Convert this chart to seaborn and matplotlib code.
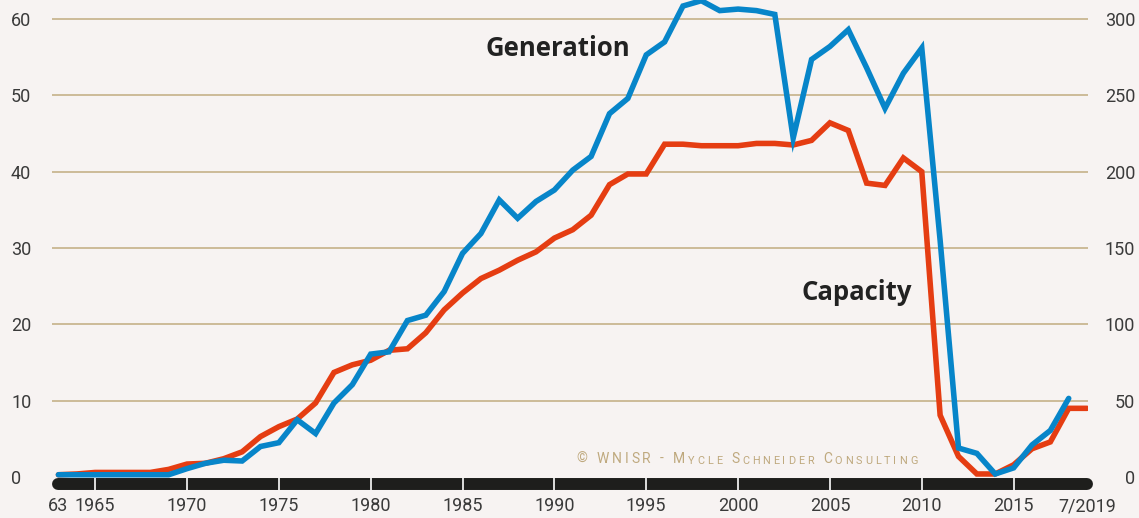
import matplotlib
matplotlib.use("Agg")
import matplotlib.pyplot as plt
import seaborn as sns
import pandas as pd

# Japan nuclear fleet: capacity (GW, left axis) and generation (TWh, right axis)
years = list(range(1963, 2020))
capacity_gw = [0.3, 0.4, 0.6, 0.6, 0.6, 0.6, 1.0, 1.7, 1.8, 2.4,
               3.3, 5.3, 6.6, 7.6, 9.7, 13.7, 14.7, 15.3, 16.6, 16.8,
               18.9, 21.9, 24.1, 26.0, 27.1, 28.4, 29.5, 31.3, 32.4, 34.3,
               38.3, 39.7, 39.7, 43.6, 43.6, 43.4, 43.4, 43.4, 43.7, 43.7,
               43.5, 44.1, 46.4, 45.4, 38.5, 38.2, 41.8, 40.0, 8.1, 2.7,
               0.4, 0.4, 1.6, 3.7, 4.6, 9.0, 9.0]
gen_years = list(range(1963, 2019))
generation_twh = [1.5, 1.5, 1.5, 1.5, 1.5, 1.5, 1.5, 5.5, 9.0, 11.0,
                  10.5, 20.0, 22.5, 37.5, 28.5, 48.5, 60.5, 80.5, 82.0, 102.5,
                  106.0, 121.5, 146.5, 159.5, 181.5, 169.5, 180.5, 188.0, 201.0, 210.0,
                  238.0, 248.0, 276.5, 285.0, 308.5, 312.0, 305.5, 306.5, 305.5, 303.0,
                  222.0, 273.5, 282.0, 293.0, 268.0, 241.5, 264.5, 281.0, 155.0, 19.0,
                  15.5, 2.0, 6.0, 21.0, 30.5, 51.5]

tick_years = [1965, 1970, 1975, 1980, 1985, 1990, 1995, 2000, 2005, 2010, 2015]
end_years = [1963, 2019]
end_labels = ["63", "7/2019"]
left_ticks = [0, 10, 20, 30, 40, 50, 60]
right_ticks = [0, 50, 100, 150, 200, 250, 300]

BG = "#f7f3f2"
RED = "#e53d12"
BLUE = "#0785c9"
GRID = "#c9b791"
TXT = "#3a3a3a"
GOLD = "#bfa97e"

sns.set_style("white", {"axes.facecolor": BG, "figure.facecolor": BG})
plt.rcParams["font.family"] = ["Roboto", "DejaVu Sans"]

fig = plt.figure(figsize=(11.39, 5.18), dpi=100)
ax = fig.add_axes([52 / 1139, 1 - 491 / 518, (1088 - 52) / 1139, 491 / 518])
ax2 = ax.twinx()

cap = pd.DataFrame({"year": years, "gw": capacity_gw})
gen = pd.DataFrame({"year": gen_years, "twh": generation_twh})

sns.lineplot(data=cap, x="year", y="gw", ax=ax, color=RED, linewidth=4.0,
             solid_capstyle="round", solid_joinstyle="miter")
sns.lineplot(data=gen, x="year", y="twh", ax=ax2, color=BLUE, linewidth=4.0,
             solid_capstyle="round", solid_joinstyle="miter")

ylo, yhi = -1.83, 62.49
ax.set_xlim(1962.65, 2019.05)
ax.set_ylim(ylo, yhi)
ax2.set_ylim(ylo * 5, yhi * 5)
ax.set_xlabel("")
ax.set_ylabel("")
ax2.set_ylabel("")

# grid
ax.set_yticks(left_ticks)
ax2.set_yticks(right_ticks)
ax.yaxis.grid(True, color=GRID, linewidth=1.3)
ax.set_axisbelow(True)
ax.get_ygridlines()[0].set_visible(False)

# spines: only the thick black bar at the bottom
for s in ["top", "left", "right"]:
    ax.spines[s].set_visible(False)
for s in ax2.spines.values():
    s.set_visible(False)
bar = ax.spines["bottom"]
bar.set_position(("data", -0.95))
bar.set_linewidth(8.6)
bar.set_color("#1e1e1c")
bar.set_capstyle("round")
bar.set_bounds(1963, 2019)
bar.set_zorder(2.2)
ax.xaxis.set_zorder(3)

ax.set_xticks(tick_years)
ax.set_xticks(end_years, labels=end_labels, minor=True)
ax.tick_params(axis="x", which="major", bottom=True, direction="inout", length=8.6,
               width=1.2, color="white", labelsize=13, labelcolor=TXT, pad=5)
ax.tick_params(axis="x", which="minor", bottom=True, length=0, labelsize=13,
               labelcolor=TXT, pad=9.3)

ax.tick_params(axis="y", length=0, labelsize=13, labelcolor=TXT, pad=29.5)
for lab in ax.get_yticklabels():
    lab.set_ha("left")
ax2.tick_params(axis="y", length=0, labelsize=13, labelcolor=TXT, pad=34)
for lab in ax2.get_yticklabels():
    lab.set_ha("right")

# series labels
ax.text(1990.2, 56.2, "Generation", fontsize=18.5, fontweight="bold",
        family=["Open Sans", "DejaVu Sans"], color="#222222", ha="center", va="center")
ax.text(2006.45, 24.2, "Capacity", fontsize=18.5, fontweight="bold",
        family=["Open Sans", "DejaVu Sans"], color="#222222", ha="center", va="center")

# copyright line, drawn as letter-spaced small caps
copyright_text = "© WNISR - Mycle Schneider Consulting"
big, small, track = 10, 7.8, 2.1
prev = None
gap = 0.0
for ch in copyright_text:
    if ch == " ":
        gap += 4.5
        continue
    size = small if ch.islower() else big
    if prev is None:
        prev = ax.text(1991.2, 1.5, ch.upper(), fontsize=size, color=GOLD,
                       ha="left", va="bottom")
    else:
        prev = ax.annotate(ch.upper(), xy=(1, 0), xycoords=prev,
                           xytext=(track + gap, 0), textcoords="offset points",
                           fontsize=size, color=GOLD, ha="left", va="bottom")
    gap = 0.0

fig.savefig("out.png", dpi=100, facecolor=BG)
